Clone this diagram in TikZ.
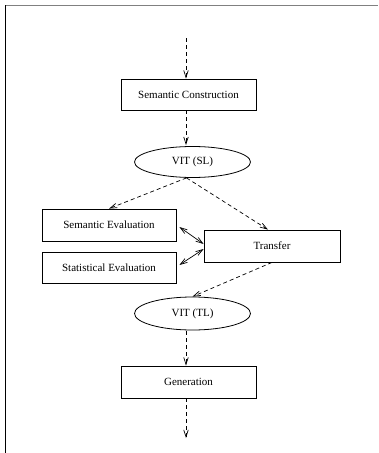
\documentclass[tikz,border=0pt]{standalone}
\usepackage{fontspec}
\setmainfont{Liberation Serif}
\usetikzlibrary{arrows.meta,shapes.geometric}
\begin{document}
\begin{tikzpicture}[x=1pt,y=-1pt,
  box/.style={draw,line width=0.8pt,rectangle,minimum width=135pt,minimum height=31pt,inner sep=0pt,font=\fontsize{11}{13}\selectfont},
  oval/.style={draw,line width=0.8pt,ellipse,minimum width=116pt,minimum height=32pt,inner sep=0pt,font=\fontsize{11}{13}\selectfont},
  flow/.style={line width=0.7pt,dash pattern=on 4pt off 3pt,-{Straight Barb[length=7pt,width=4.5pt]}},
  both/.style={line width=0.7pt,{Straight Barb[length=7pt,width=4.5pt]}-{Straight Barb[length=7pt,width=4.5pt]}}]
\useasboundingbox (0,0) rectangle (378,453);
\draw[gray,line width=1.5pt] (5,5.5) -- (378,5.5);
\draw[black,line width=1pt] (5,5) -- (5,453);

\node[box] (sc) at (188.5,94.5) {Semantic Construction};
\node[oval,minimum height=31pt] (vsl) at (192.5,162) {VIT (SL)};
\node[box,minimum width=134pt,minimum height=32pt] (se) at (109,225) {Semantic Evaluation};
\node[box,minimum width=134pt] (ste) at (109,267.5) {Statistical Evaluation};
\node[box,minimum width=136pt,minimum height=32pt] (tr) at (272,246) {Transfer};
\node[oval,minimum height=33pt] (vtl) at (192.5,313.5) {VIT (TL)};
\node[box,minimum height=32pt] (gen) at (188.5,382) {Generation};
\coordinate (top) at (186,38);
\coordinate (end) at (186,438);

\draw[flow] (top) -- (top |- sc.north);
\draw[flow] (sc.south -| top) -- ([yshift=1pt]vsl.north -| top);
\draw[flow] ([xshift=-6pt]vsl.south) -- (se.north);
\draw[flow] ([xshift=-6pt]vsl.south) -- ([xshift=-4pt]tr.north);
\draw[both] ([xshift=3pt,yshift=-2pt]se.east) -- ([yshift=2pt]tr.west);
\draw[both] ([xshift=3pt,yshift=2.5pt]ste.east) -- ([yshift=-3pt]tr.west);
\draw[flow] (tr.south) -- (vtl.north);
\draw[flow] ([yshift=-1pt]vtl.south -| top) -- (gen.north -| top);
\draw[flow] (gen.south -| top) -- (end);
\end{tikzpicture}
\end{document}
